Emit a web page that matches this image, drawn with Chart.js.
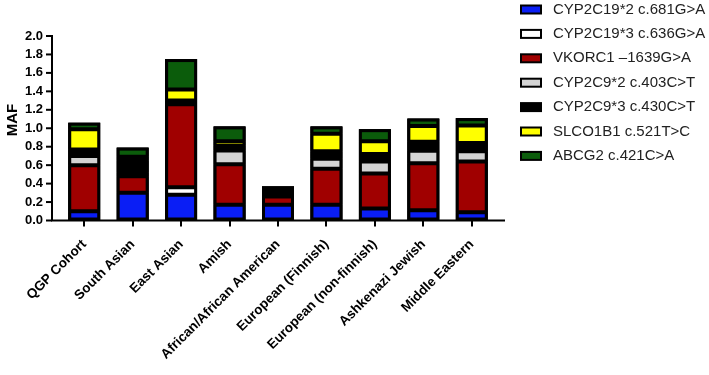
<!DOCTYPE html>
<html>
<head>
<meta charset="utf-8">
<script src="https://cdn.jsdelivr.net/npm/chart.js@4"></script>
<style>
  body { margin: 0; background: #fff; }
  canvas { display: block; }
</style>
</head>
<body>
<canvas id="myChart" width="709" height="375"></canvas>
<script>
var categories = ['QGP Cohort', 'South Asian', 'East Asian', 'Amish', 'African/African American',
  'European (Finnish)', 'European (non-finnish)', 'Ashkenazi Jewish', 'Middle Eastern'];

var seriesNames = ['CYP2C19*2 c.681G>A', 'CYP2C19*3 c.636G>A', 'VKORC1 \u20131639G>A',
  'CYP2C9*2 c.403C>T', 'CYP2C9*3 c.430C>T', 'SLCO1B1 c.521T>C', 'ABCG2 c.421C>A'];

var cyp2c19_2 = [0.10, 0.30, 0.28, 0.17, 0.17, 0.17, 0.13, 0.11, 0.09];
var cyp2c19_3 = [0, 0, 0.08, 0, 0, 0, 0, 0, 0];
var vkorc1    = [0.50, 0.18, 0.90, 0.44, 0.09, 0.39, 0.38, 0.51, 0.55];
var cyp2c9_2  = [0.10, 0.04, 0, 0.15, 0.02, 0.11, 0.13, 0.135, 0.11];
var cyp2c9_3  = [0.07, 0.13, 0.04, 0.05, 0.03, 0.08, 0.08, 0.10, 0.09];
var slco1b1   = [0.22, 0.04, 0.12, 0.05, 0.03, 0.19, 0.14, 0.17, 0.19];
var abcg2     = [0.07, 0.10, 0.33, 0.16, 0.03, 0.08, 0.13, 0.08, 0.08];

var yTicks = [0, 0.2, 0.4, 0.6, 0.8, 1.0, 1.2, 1.4, 1.6, 1.8, 2.0];

var colors = ['#0a1ef5', '#ffffff', '#a00000', '#d4d4d4', '#000000', '#ffff00', '#0b5c0b'];
var allSeries = [cyp2c19_2, cyp2c19_3, vkorc1, cyp2c9_2, cyp2c9_3, slco1b1, abcg2];

var font = "'Liberation Sans', Arial, sans-serif";

var datasets = [];
for (var i = 0; i < allSeries.length; i++) {
  datasets.push({
    label: seriesNames[i],
    data: allSeries[i],
    backgroundColor: colors[i],
    borderColor: '#000',
    borderWidth: 2,
    borderSkipped: false,
    inflateAmount: 0,
    barPercentage: 0.66,
    categoryPercentage: 1
  });
}

// black under every stack (hides the seams) and a thick frame on top
function stackRects(chart) {
  var first = chart.getDatasetMeta(0).data;
  var last = chart.getDatasetMeta(chart.data.datasets.length - 1).data;
  var out = [];
  for (var i = 0; i < first.length; i++) {
    var w = first[i].width;
    out.push({ x: first[i].x - w / 2, y: last[i].y, w: w, h: first[i].base - last[i].y });
  }
  return out;
}
var stackFrame = {
  id: 'stackFrame',
  beforeDatasetsDraw: function(chart) {
    var ctx = chart.ctx;
    var r = stackRects(chart);
    ctx.save();
    ctx.fillStyle = '#000';
    for (var i = 0; i < r.length; i++) {
      ctx.fillRect(r[i].x, r[i].y, r[i].w, r[i].h);
    }
    ctx.restore();
  },
  afterDatasetsDraw: function(chart) {
    var ctx = chart.ctx;
    var r = stackRects(chart);
    ctx.save();
    ctx.strokeStyle = '#000';
    ctx.lineWidth = 3;
    for (var i = 0; i < r.length; i++) {
      ctx.strokeRect(r[i].x + 1.5, r[i].y + 1.5, r[i].w - 3, r[i].h - 3);
    }
    ctx.restore();
  }
};

// axis lines a bit longer than the plot area, like the original, plus the y title
var axisLines = {
  id: 'axisLines',
  afterDraw: function(chart) {
    var ctx = chart.ctx;
    var a = chart.chartArea;
    var y = chart.scales.y;
    var ax = a.left - 8;
    ctx.save();
    ctx.strokeStyle = '#000';
    ctx.lineWidth = 2;
    ctx.beginPath();
    ctx.moveTo(ax, a.top - 1);
    ctx.lineTo(ax, a.bottom);
    ctx.lineTo(a.right + 9, a.bottom);
    ctx.stroke();
    for (var i = 0; i < yTicks.length; i++) {
      var py = y.getPixelForValue(yTicks[i]);
      ctx.beginPath();
      ctx.moveTo(ax - 6, py);
      ctx.lineTo(ax, py);
      ctx.stroke();
    }
    // MAF
    ctx.translate(13, 120);
    ctx.rotate(-Math.PI / 2);
    ctx.font = 'bold 15px ' + font;
    ctx.fillStyle = '#000';
    ctx.textAlign = 'center';
    ctx.textBaseline = 'middle';
    ctx.fillText('MAF', 0, 0);
    ctx.restore();
  }
};

// legend on the right
var sideLegend = {
  id: 'sideLegend',
  afterDraw: function(chart) {
    var ctx = chart.ctx;
    ctx.save();
    ctx.font = '15px ' + font;
    ctx.textBaseline = 'middle';
    for (var i = 0; i < chart.data.datasets.length; i++) {
      var ds = chart.data.datasets[i];
      var cy = 9.5 + i * 24.4;
      ctx.fillStyle = ds.backgroundColor;
      ctx.fillRect(521, cy - 4, 20, 8);
      ctx.strokeStyle = '#000';
      ctx.lineWidth = 2;
      ctx.strokeRect(521, cy - 4, 20, 8);
      ctx.fillStyle = '#222';
      ctx.fillText(ds.label, 553, cy);
    }
    ctx.restore();
  }
};

var ctx = document.getElementById('myChart').getContext('2d');
var chart = new Chart(ctx, {
  type: 'bar',
  data: {
    labels: categories,
    datasets: datasets
  },
  options: {
    responsive: false,
    animation: false,
    layout: { padding: { top: 36, right: 213, left: 0, bottom: 0 } },
    plugins: {
      legend: { display: false },
      tooltip: { enabled: false }
    },
    scales: {
      x: {
        stacked: true,
        border: { display: false },
        grid: { display: true, drawOnChartArea: false, drawTicks: true, tickLength: 6,
                offset: false, color: '#000', lineWidth: 2 },
        ticks: { maxRotation: 45, minRotation: 45, padding: 10, color: '#000', autoSkip: false,
                 font: { family: font, size: 13.5, weight: 'bold' } },
        afterFit: function(s) { s.height = 154.5; }
      },
      y: {
        stacked: true,
        min: 0,
        max: 2,
        border: { display: false },
        grid: { display: false, drawTicks: false },
        afterBuildTicks: function(s) {
          s.ticks = yTicks.map(function(v) { return { value: v }; });
        },
        ticks: { padding: 17, color: '#000', autoSkip: false,
                 font: { family: font, size: 13, weight: 'bold' },
                 callback: function(v) { return v.toFixed(1); } },
        afterFit: function(s) { s.width = 60; }
      }
    }
  },
  plugins: [stackFrame, axisLines, sideLegend]
});
</script>
</body>
</html>
